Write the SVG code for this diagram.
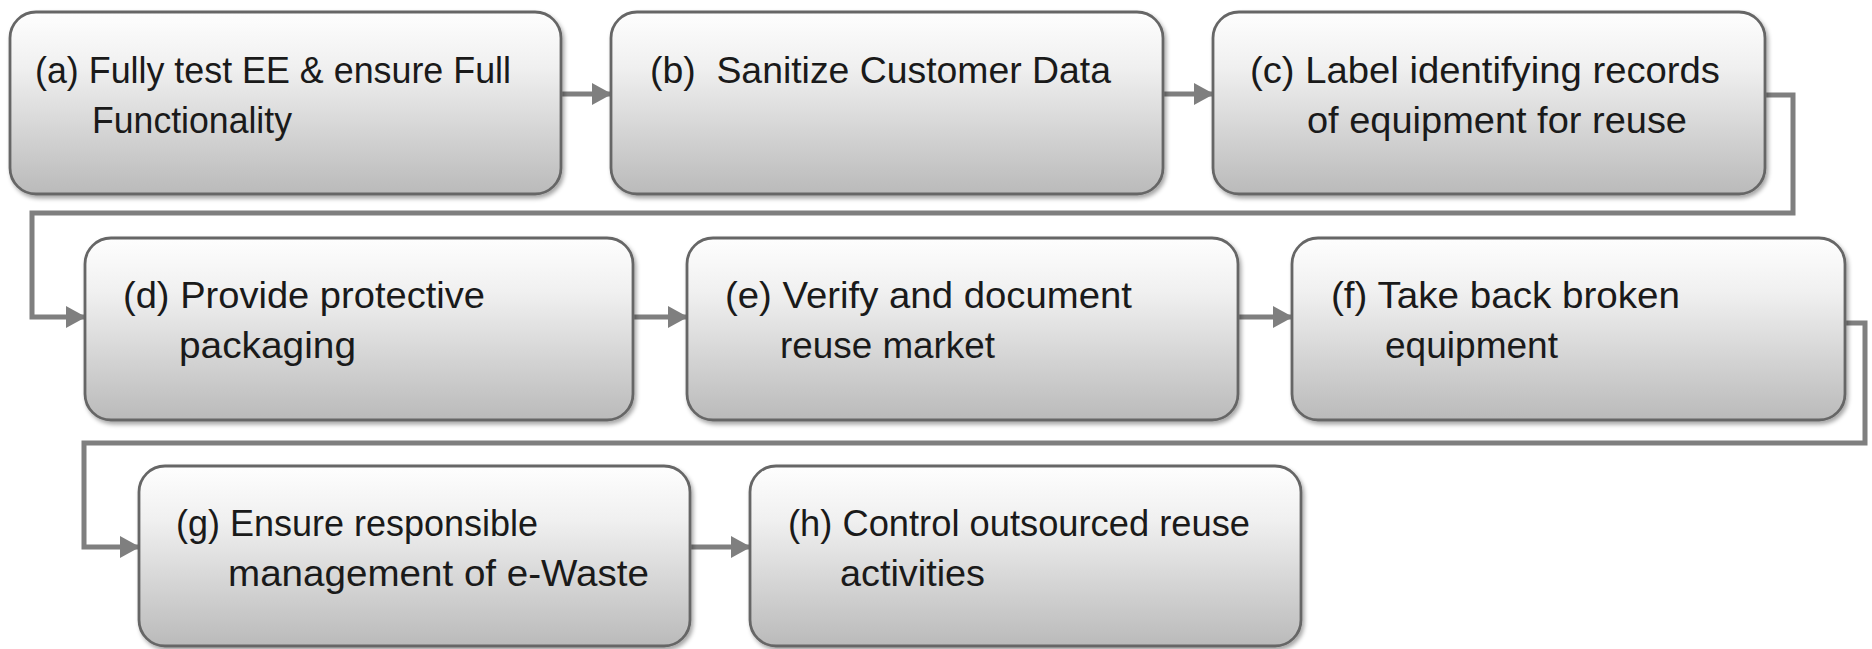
<svg xmlns="http://www.w3.org/2000/svg" width="1872" height="649" viewBox="0 0 1872 649">
<defs>
<linearGradient id="boxfill" x1="0" y1="0" x2="0" y2="1">
<stop offset="0" stop-color="#fefefe"/>
<stop offset="0.3" stop-color="#f0f0f0"/>
<stop offset="1" stop-color="#bababa"/>
</linearGradient>
<filter id="shadow" x="-5%" y="-5%" width="112%" height="115%">
<feDropShadow dx="2" dy="3" stdDeviation="2" flood-color="#000" flood-opacity="0.35"/>
</filter>
<marker id="arrow" viewBox="0 0 20 22" refX="19" refY="11" markerWidth="20" markerHeight="22" markerUnits="userSpaceOnUse" orient="auto">
<path d="M0,0 L20,11 L0,22 z" fill="#7f7f7f"/>
</marker>
</defs>
<style>
.box{fill:url(#boxfill);stroke:#666666;stroke-width:2.8;filter:url(#shadow)}
.lbl{font-family:"Liberation Sans",Arial,sans-serif;font-size:36px;fill:#1a1a1a}
.conn{fill:none;stroke:#7f7f7f;stroke-width:5;stroke-linejoin:miter}
</style>
<rect width="1872" height="649" fill="#ffffff"/>
<g id="connectors">
<path class="conn" d="M561,94 H611" marker-end="url(#arrow)"/>
<path class="conn" d="M1163,94 H1213" marker-end="url(#arrow)"/>
<path class="conn" d="M1765,95 H1793 V213 H32 V317 H85" marker-end="url(#arrow)"/>
<path class="conn" d="M633,317 H687" marker-end="url(#arrow)"/>
<path class="conn" d="M1238,317 H1292" marker-end="url(#arrow)"/>
<path class="conn" d="M1845,323 H1865 V443 H84 V547 H139" marker-end="url(#arrow)"/>
<path class="conn" d="M690,547 H750" marker-end="url(#arrow)"/>
</g>
<g id="node-a">
<rect class="box" x="10" y="12" width="551" height="182" rx="26"/>
<text class="lbl" x="35" y="83" textLength="476" lengthAdjust="spacingAndGlyphs">(a) Fully test EE &amp; ensure Full</text>
<text class="lbl" x="92" y="133" textLength="200" lengthAdjust="spacingAndGlyphs">Functionality</text>
</g>
<g id="node-b">
<rect class="box" x="611" y="12" width="552" height="182" rx="26"/>
<text class="lbl" x="650" y="83" textLength="461" lengthAdjust="spacingAndGlyphs" xml:space="preserve">(b)  Sanitize Customer Data</text>
</g>
<g id="node-c">
<rect class="box" x="1213" y="12" width="552" height="182" rx="26"/>
<text class="lbl" x="1250" y="83" textLength="470" lengthAdjust="spacingAndGlyphs">(c) Label identifying records</text>
<text class="lbl" x="1307" y="133" textLength="380" lengthAdjust="spacingAndGlyphs">of equipment for reuse</text>
</g>
<g id="node-d">
<rect class="box" x="85" y="238" width="548" height="182" rx="26"/>
<text class="lbl" x="123" y="308" textLength="362" lengthAdjust="spacingAndGlyphs">(d) Provide protective</text>
<text class="lbl" x="179" y="358" textLength="177" lengthAdjust="spacingAndGlyphs">packaging</text>
</g>
<g id="node-e">
<rect class="box" x="687" y="238" width="551" height="182" rx="26"/>
<text class="lbl" x="725" y="308" textLength="407" lengthAdjust="spacingAndGlyphs">(e) Verify and document</text>
<text class="lbl" x="780" y="358" textLength="215" lengthAdjust="spacingAndGlyphs">reuse market</text>
</g>
<g id="node-f">
<rect class="box" x="1292" y="238" width="553" height="182" rx="26"/>
<text class="lbl" x="1331" y="308" textLength="349" lengthAdjust="spacingAndGlyphs">(f) Take back broken</text>
<text class="lbl" x="1385" y="358" textLength="173" lengthAdjust="spacingAndGlyphs">equipment</text>
</g>
<g id="node-g">
<rect class="box" x="139" y="466" width="551" height="180" rx="26"/>
<text class="lbl" x="176" y="536" textLength="362" lengthAdjust="spacingAndGlyphs">(g) Ensure responsible</text>
<text class="lbl" x="228" y="586" textLength="421" lengthAdjust="spacingAndGlyphs">management of e-Waste</text>
</g>
<g id="node-h">
<rect class="box" x="750" y="466" width="551" height="180" rx="26"/>
<text class="lbl" x="788" y="536" textLength="462" lengthAdjust="spacingAndGlyphs">(h) Control outsourced reuse</text>
<text class="lbl" x="840" y="586" textLength="145" lengthAdjust="spacingAndGlyphs">activities</text>
</g>
</svg>
